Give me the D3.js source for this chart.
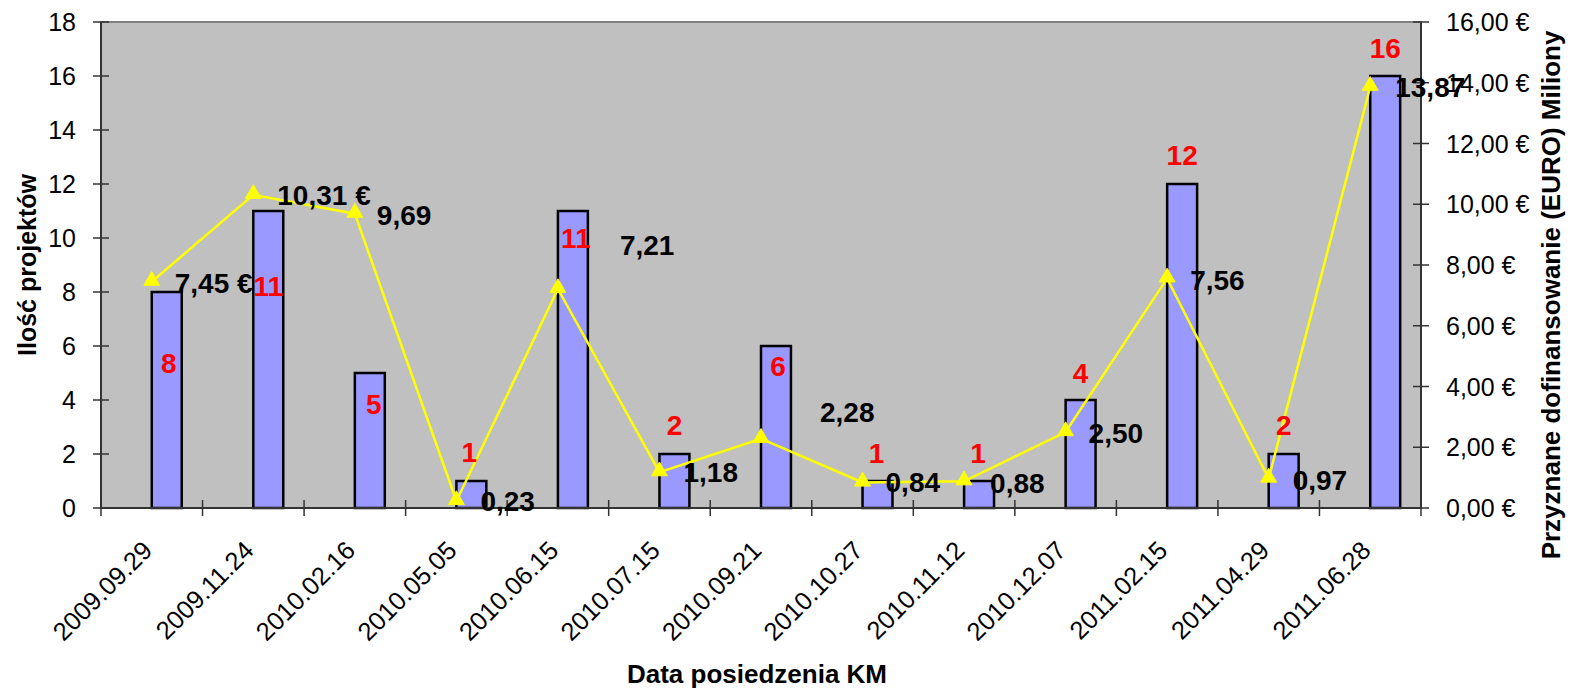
<!DOCTYPE html>
<html>
<head>
<meta charset="utf-8">
<script src="https://cdn.jsdelivr.net/npm/d3@7"></script>
<style>
  html, body { margin: 0; padding: 0; background: #fff; }
  svg { display: block; font-family: Arial, "Liberation Sans", sans-serif; }
</style>
</head>
<body>
<svg id="chart" width="1569" height="689"></svg>
<script>
// dates of KM meetings
var categories = ['2009.09.29', '2009.11.24', '2010.02.16', '2010.05.05', '2010.06.15', '2010.07.15',
  '2010.09.21', '2010.10.27', '2010.11.12', '2010.12.07', '2011.02.15', '2011.04.29', '2011.06.28'];
// number of projects (bars, left axis)
var projectCounts = [8, 11, 5, 1, 11, 2, 6, 1, 1, 4, 12, 2, 16];
// granted funding, mln EUR (line, right axis)
var funding = [7.45, 10.31, 9.69, 0.23, 7.21, 1.18, 2.28, 0.84, 0.88, 2.50, 7.56, 0.97, 13.87];
var fundingWithEuro = [true, true, false, false, false, false, false, false, false, false, false, false, false];
var leftTicks = [0, 2, 4, 6, 8, 10, 12, 14, 16, 18];
var rightTicks = [0, 2, 4, 6, 8, 10, 12, 14, 16];

// label nudges (px), labels were dragged by hand in the original
var countLabelShift = [[17, 71], [15, 75], [19, 31], [13, -29], [18, 27], [15, -29], [17, 20],
  [14, -28], [14, -28], [15, -27], [15, -29], [15, -29], [15, -28]];
var fundLabelShift = [[23, 11], [24, 10], [22, 11], [24, 10], [62, -34], [24, 10], [59, -17],
  [23, 10], [26, 12], [23, 11], [23, 12], [24, 11], [25, 10]];

var margin = {left: 101, top: 22, right: 148, bottom: 181};
var width = 1569, height = 689;
var plotW = width - margin.left - margin.right;
var plotH = height - margin.top - margin.bottom;

var svg = d3.select('#chart');
var g = svg.append('g').attr('transform', 'translate(' + margin.left + ',' + margin.top + ')');

var x = d3.scaleBand().domain(categories).range([0, plotW]).padding(0);
var yL = d3.scaleLinear().domain([0, 18]).range([plotH, 0]);
var yR = d3.scaleLinear().domain([0, 16]).range([plotH, 0]);
var comma = d3.formatLocale({decimal: ',', thousands: ' ', grouping: [3], currency: ['', ' €']});
var fmt2 = comma.format('.2f');

// plot area
g.append('rect')
  .attr('width', plotW).attr('height', plotH)
  .attr('fill', '#c0c0c0')
  .attr('stroke', '#808080').attr('stroke-width', 2);

// bars
var barW = x.bandwidth() * 0.295;
g.selectAll('.bar')
  .data(projectCounts)
  .enter().append('rect')
  .attr('class', 'bar')
  .attr('x', function(d, i) { return x(categories[i]) + x.bandwidth() / 2; })
  .attr('y', function(d) { return yL(d); })
  .attr('width', barW)
  .attr('height', function(d) { return plotH - yL(d); })
  .attr('fill', '#9999ff')
  .attr('stroke', '#000').attr('stroke-width', 2.5);

// line
var cx = function(i) { return x(categories[i]) + x.bandwidth() / 2; };
var line = d3.line()
  .x(function(d, i) { return cx(i); })
  .y(function(d) { return yR(d); });
g.append('path')
  .datum(funding)
  .attr('d', line)
  .attr('fill', 'none')
  .attr('stroke', '#ffff00').attr('stroke-width', 2.5);

var tri = d3.symbol().type(d3.symbolTriangle).size(110);
g.selectAll('.marker')
  .data(funding)
  .enter().append('path')
  .attr('class', 'marker')
  .attr('d', tri)
  .attr('transform', function(d, i) { return 'translate(' + cx(i) + ',' + (yR(d) - 1) + ')'; })
  .attr('fill', '#ffff00').attr('stroke', '#ffff00').attr('stroke-width', 1);

// axes
var axisColor = '#333';
// left
var la = g.append('g');
la.append('line').attr('x1', 0).attr('x2', 0).attr('y1', 0).attr('y2', plotH)
  .attr('stroke', axisColor).attr('stroke-width', 2);
la.selectAll('.lt').data(leftTicks).enter().append('line')
  .attr('x1', -8).attr('x2', 8)
  .attr('y1', function(d) { return yL(d); }).attr('y2', function(d) { return yL(d); })
  .attr('stroke', axisColor).attr('stroke-width', 1.5);
la.selectAll('.ll').data(leftTicks).enter().append('text')
  .attr('x', -25).attr('y', function(d) { return yL(d); })
  .attr('dy', '0.36em')
  .attr('text-anchor', 'end')
  .attr('font-size', 25)
  .text(function(d) { return d; });

// right
var ra = g.append('g').attr('transform', 'translate(' + plotW + ',0)');
ra.append('line').attr('x1', 0).attr('x2', 0).attr('y1', 0).attr('y2', plotH)
  .attr('stroke', axisColor).attr('stroke-width', 2);
ra.selectAll('.rt').data(rightTicks).enter().append('line')
  .attr('x1', -8).attr('x2', 8)
  .attr('y1', function(d) { return yR(d); }).attr('y2', function(d) { return yR(d); })
  .attr('stroke', axisColor).attr('stroke-width', 1.5);
ra.selectAll('.rl').data(rightTicks).enter().append('text')
  .attr('x', 25).attr('y', function(d) { return yR(d); })
  .attr('dy', '0.36em')
  .attr('font-size', 25)
  .text(function(d) { return fmt2(d) + ' €'; });

// bottom
var ba = g.append('g').attr('transform', 'translate(0,' + plotH + ')');
ba.append('line').attr('x1', 0).attr('x2', plotW)
  .attr('stroke', axisColor).attr('stroke-width', 2);
ba.selectAll('.bt').data(d3.range(categories.length + 1)).enter().append('line')
  .attr('x1', function(d) { return d * x.step(); }).attr('x2', function(d) { return d * x.step(); })
  .attr('y1', -8).attr('y2', 8)
  .attr('stroke', axisColor).attr('stroke-width', 1.5);
ba.selectAll('.bl').data(categories).enter().append('text')
  .attr('text-anchor', 'end')
  .attr('font-size', 25.5)
  .attr('transform', function(d) {
    return 'translate(' + (x(d) + x.bandwidth() / 2 + 2) + ',44) rotate(-45)';
  })
  .text(function(d) { return d; });

// data labels
g.selectAll('.cl').data(projectCounts).enter().append('text')
  .attr('x', function(d, i) { return cx(i) + countLabelShift[i][0]; })
  .attr('y', function(d, i) { return yL(d) + countLabelShift[i][1]; })
  .attr('dy', '0.36em')
  .attr('text-anchor', 'middle')
  .attr('font-size', 28).attr('font-weight', 'bold')
  .attr('fill', '#ff0000')
  .text(function(d) { return d; });

g.selectAll('.fl').data(funding).enter().append('text')
  .attr('x', function(d, i) { return cx(i) + fundLabelShift[i][0]; })
  .attr('y', function(d, i) { return yR(d) + fundLabelShift[i][1]; })
  .attr('font-size', 28).attr('font-weight', 'bold')
  .attr('fill', '#000')
  .text(function(d, i) { return fmt2(d) + (fundingWithEuro[i] ? ' €' : ''); });

// axis titles
svg.append('text')
  .attr('transform', 'translate(36,' + (margin.top + plotH / 2) + ') rotate(-90)')
  .attr('text-anchor', 'middle')
  .attr('font-size', 25).attr('font-weight', 'bold')
  .text('Ilość projektów');

svg.append('text')
  .attr('transform', 'translate(1560,295) rotate(-90)')
  .attr('text-anchor', 'middle')
  .attr('font-size', 26).attr('font-weight', 'bold')
  .text('Przyznane dofinansowanie (EURO) Miliony');

svg.append('text')
  .attr('x', margin.left + plotW / 2 - 4).attr('y', 683)
  .attr('text-anchor', 'middle')
  .attr('font-size', 26).attr('font-weight', 'bold')
  .text('Data posiedzenia KM');
</script>
</body>
</html>
